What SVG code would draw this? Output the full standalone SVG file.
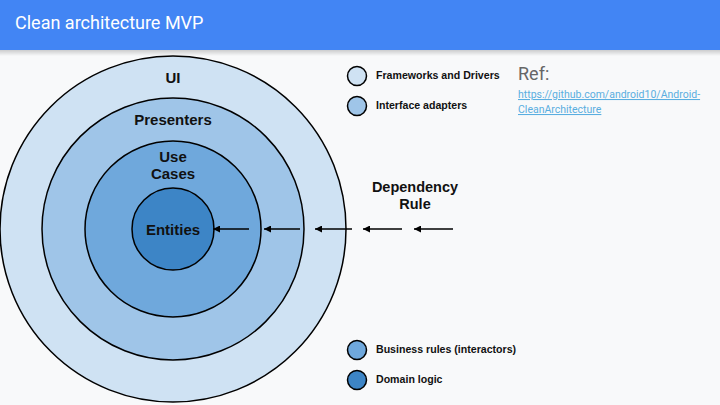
<svg xmlns="http://www.w3.org/2000/svg" width="720" height="405" viewBox="0 0 720 405">
<defs>
<linearGradient id="shadow" x1="0" y1="0" x2="0" y2="1">
<stop offset="0" stop-color="#000" stop-opacity="0.18"/>
<stop offset="1" stop-color="#000" stop-opacity="0"/>
</linearGradient>
<marker id="ah" viewBox="0 0 10 10" refX="0" refY="5" markerWidth="9" markerHeight="7" markerUnits="userSpaceOnUse" orient="auto">
<path d="M0,5 L10,0 L10,10 Z" fill="#000"/>
</marker>
</defs>
<style>
.ring{stroke:#000;stroke-width:1.5}
.lab{font-family:"Liberation Sans",Arial,sans-serif;font-weight:bold;fill:#111;text-anchor:middle}
.leg{font-family:"Liberation Sans",Arial,sans-serif;font-weight:bold;font-size:10.6px;fill:#111}
.dot{stroke:#000;stroke-width:1.5}
.arr{stroke:#000;stroke-width:1.5;fill:none;marker-start:url(#ah)}
.url{font-family:"Roboto","Liberation Sans",sans-serif;font-size:10.5px;fill:#5aaee0;text-decoration:underline}
</style>
<rect width="720" height="405" fill="#f8f9fa"/>
<rect width="720" height="50" fill="#4285f4"/>
<rect y="50" width="720" height="6" fill="url(#shadow)"/>
<text x="15" y="29" font-family="Roboto,'Liberation Sans',sans-serif" font-size="18" fill="#fff">Clean architecture MVP</text>

<g id="frameworks">
<circle class="ring" cx="173" cy="229" r="173" fill="#cfe2f3"/>
<text class="lab" x="173" y="83" font-size="15">UI</text>
</g>
<g id="presenters">
<circle class="ring" cx="173" cy="229" r="131" fill="#9fc5e8"/>
<text class="lab" x="173" y="125" font-size="15">Presenters</text>
</g>
<g id="usecases">
<circle class="ring" cx="173" cy="229" r="88" fill="#6fa8dc"/>
<text class="lab" x="173" y="162" font-size="15">Use</text>
<text class="lab" x="173" y="179" font-size="15">Cases</text>
</g>
<g id="entities">
<circle class="ring" cx="173" cy="229" r="41" fill="#3d85c6"/>
<text class="lab" x="173" y="235" font-size="15">Entities</text>
</g>

<g id="connectors">
<line class="arr" x1="213" y1="229" x2="249" y2="229"/>
<line class="arr" x1="264" y1="229" x2="300" y2="229"/>
<line class="arr" x1="315" y1="229" x2="352" y2="229"/>
<line class="arr" x1="363" y1="229" x2="402" y2="229"/>
<line class="arr" x1="414" y1="229" x2="453" y2="229"/>
</g>

<g id="dependency-rule">
<text class="lab" x="415" y="192" font-size="14.5">Dependency</text>
<text class="lab" x="415" y="209" font-size="14.5">Rule</text>
</g>

<g id="legend-frameworks">
<circle class="dot" cx="357" cy="76" r="9.5" fill="#cfe2f3"/>
<text class="leg" x="376" y="79">Frameworks and Drivers</text>
</g>
<g id="legend-interface">
<circle class="dot" cx="357" cy="106" r="9.5" fill="#9fc5e8"/>
<text class="leg" x="376" y="109">Interface adapters</text>
</g>
<g id="legend-business">
<circle class="dot" cx="357" cy="350" r="9.5" fill="#6fa8dc"/>
<text class="leg" x="376" y="353">Business rules (interactors)</text>
</g>
<g id="legend-domain">
<circle class="dot" cx="357" cy="380" r="9.5" fill="#3d85c6"/>
<text class="leg" x="376" y="383">Domain logic</text>
</g>

<g id="ref">
<text x="518" y="80" font-family="Roboto,'Liberation Sans',sans-serif" font-size="18" fill="#666">Ref:</text>
<text class="url" x="518" y="98">https://github.com/android10/Android-</text>
<text class="url" x="518" y="113">CleanArchitecture</text>
</g>
</svg>
